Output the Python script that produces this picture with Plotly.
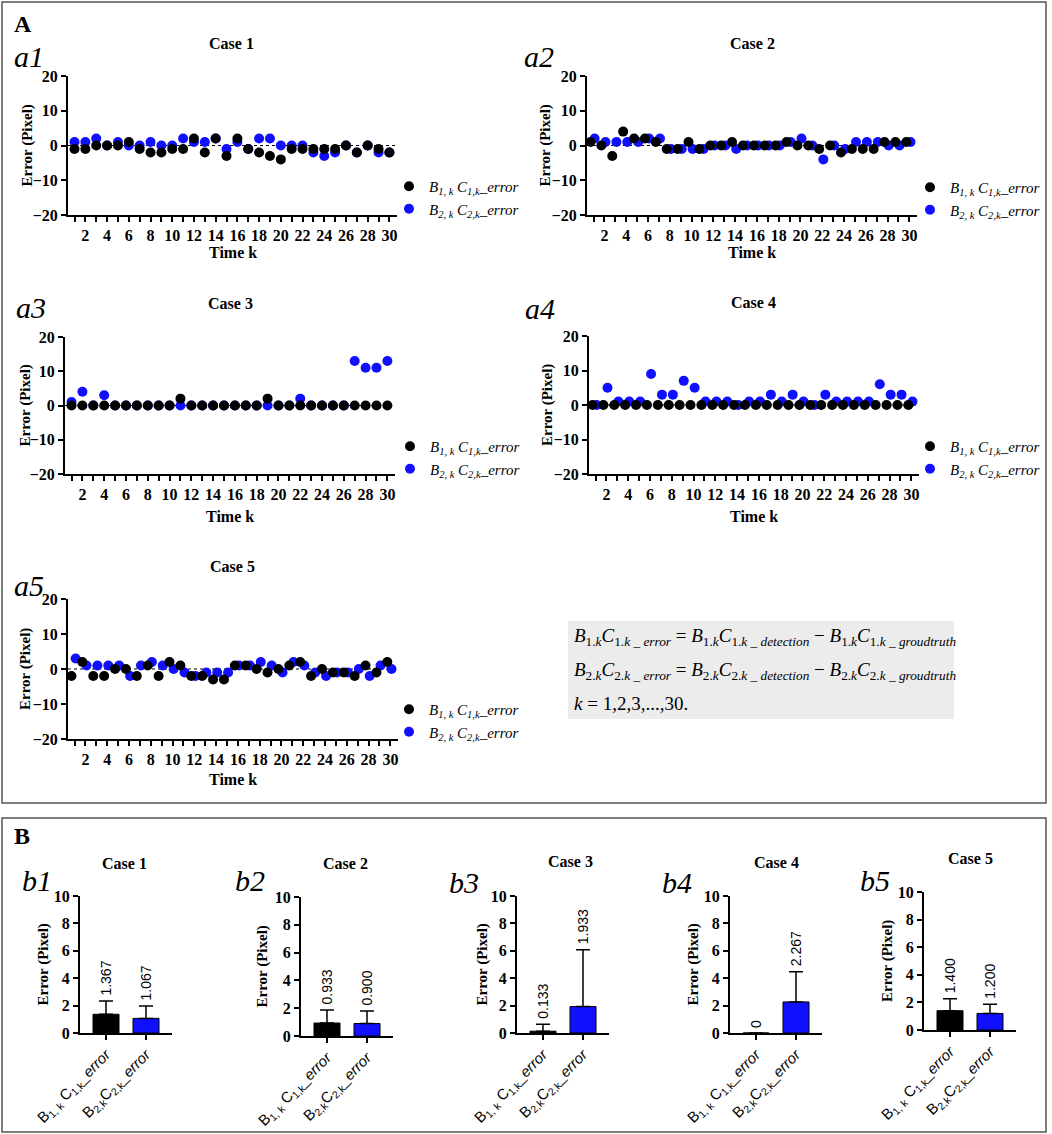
import plotly.graph_objects as go

W, H = 1052, 1134
SERIF = "Liberation Serif"
SANS = "Liberation Sans"
BLACK = "#000000"
BLUE = "#1010ff"

# ---- data -------------------------------------------------------------
k = list(range(1, 31))

case1_black = [-1, -1, 0, 0, 0, 1, -1, -2, -2, -1, -1, 2, -2, 2, -3, 2, -1, -2, -3, -4, -1, -1, -1, -1, -1, 0, -2, 0, -1, -2]
case1_blue = [1, 1, 2, 0, 1, 0, 0, 1, 0, 0, 2, 1, 1, 2, -1, 1, -1, 2, 2, 0, 0, 0, -2, -3, -2, 0, -2, 0, -2, -2]

case2_black = [1, 0, -3, 4, 2, 2, 1, -1, -1, 1, -1, 0, 0, 1, 0, 0, 0, 0, 1, 0, 0, -1, 0, -2, -1, -1, -1, 1, 1, 1]
case2_blue = [2, 1, 1, 1, 1, 2, 2, -1, -1, -1, -1, 0, 0, -1, 0, 0, 0, 0, 1, 2, 0, -4, 0, -1, 1, 1, 1, 0, 0, 1]

case3_black = [0, 0, 0, 0, 0, 0, 0, 0, 0, 0, 2, 0, 0, 0, 0, 0, 0, 0, 2, 0, 0, 0, 0, 0, 0, 0, 0, 0, 0, 0]
case3_blue = [1, 4, 0, 3, 0, 0, 0, 0, 0, 0, 0, 0, 0, 0, 0, 0, 0, 0, 0, 0, 0, 2, 0, 0, 0, 0, 13, 11, 11, 13]

case4_black = [0, 0, 0, 0, 0, 0, 0, 0, 0, 0, 0, 0, 0, 0, 0, 0, 0, 0, 0, 0, 0, 0, 0, 0, 0, 0, 0, 0, 0, 0]
case4_blue = [0, 5, 1, 1, 1, 9, 3, 3, 7, 5, 1, 1, 1, 0, 1, 1, 3, 1, 3, 1, 0, 3, 1, 1, 1, 1, 6, 3, 3, 1]

case5_black = [-2, 2, -2, -2, 0, 0, -2, 1, -2, 2, 1, -2, -2, -3, -3, 1, 1, 0, -1, 0, 1, 2, -2, 0, -1, -1, -2, 1, -1, 2]
case5_blue = [3, 1, 1, 1, 1, -2, 1, 2, 1, 0, -1, -2, -1, -1, -1, 1, 1, 2, 1, -1, 2, 1, -1, -2, -1, -1, 0, -2, 1, 0]

x_ticks = [str(v) if v % 2 == 0 else "" for v in k]

bar_cats = ["B<sub>1, k</sub> C<sub>1,k</sub>_<i>error</i>",
            "B<sub>2,</sub><sub>k</sub>C<sub>2,k</sub>_<i>error</i>"]
mean_black = [1.367, 0.933, 0.133, 0.0, 1.400]
mean_blue = [1.067, 0.900, 1.933, 2.267, 1.200]
sd_black = [0.96, 0.94, 0.51, 0.0, 0.86]
sd_blue = [0.91, 0.89, 4.14, 2.20, 0.66]

legend_black = "<i>B</i><sub><i>1, k</i></sub> <i>C</i><sub><i>1,k</i></sub><i>_error</i>"
legend_blue = "<i>B</i><sub><i>2, k</i></sub> <i>C</i><sub><i>2,k</i></sub><i>_error</i>"

# ---- layout helpers (pixel -> paper) ---------------------------------
def fx(p):
    return p / W

def fy(p):
    return 1 - p / H

fig = go.Figure()
annotations = []
shapes = []
layout = {}

def text(x, y, s, size=14, bold=True, family=SERIF, angle=0, xanchor="center", yanchor="middle"):
    annotations.append(dict(x=fx(x), y=fy(y), xref="paper", yref="paper", text=s, showarrow=False,
                            xanchor=xanchor, yanchor=yanchor, textangle=angle,
                            font=dict(family=family, size=size, color="black",
                                      weight="bold" if bold else "normal")))

axis_style = dict(showline=True, linewidth=2, linecolor="black", ticks="outside", ticklen=5,
                  tickwidth=2, tickcolor="black", showgrid=False, zeroline=False)
tick_font = dict(family=SERIF, size=16, color="black", weight="bold")

# ---- scatter panels ---------------------------------------------------
scatter_panels = [
    (case1_black, case1_blue, "Case 1", "a1", (68, 397), (76, 215), (0, 0), (231, 43), (12, 57), (27, 252), (389, 170)),
    (case2_black, case2_blue, "Case 2", "a2", (587, 917), (76, 215), (-0.28, 0.1), (752, 43), (522, 57), (545, 252), (910, 171)),
    (case3_black, case3_blue, "Case 3", "a3", (65, 395), (337, 474), (0, 0), (230, 303), (14, 307), (25, 516), (390, 430)),
    (case4_black, case4_blue, "Case 4", "a4", (589, 919), (336, 474), (-0.28, 0.1), (753, 302), (523, 308), (547, 516), (910, 430)),
    (case5_black, case5_blue, "Case 5", "a5", (68, 398), (599, 739), (-0.28, 0.1), (232, 566), (12, 585), (25, 779), (389, 693)),
]

for i, (yb, yu, title, lab, xd, yd, dodge, tpos, lpos, ttl, lg) in enumerate(scatter_panels):
    n = i + 1
    xa = "x" if n == 1 else f"x{n}"
    ya = "y" if n == 1 else f"y{n}"
    leg = "legend" if n == 1 else f"legend{n}"
    fig.add_trace(go.Scatter(x=[v + dodge[1] for v in k], y=yu, mode="markers", name=legend_blue,
                             marker=dict(color=BLUE, size=10), xaxis=xa, yaxis=ya,
                             legend=leg, legendrank=2, hoverinfo="skip"))
    fig.add_trace(go.Scatter(x=[v + dodge[0] for v in k], y=yb, mode="markers", name=legend_black,
                             marker=dict(color=BLACK, size=10), xaxis=xa, yaxis=ya,
                             legend=leg, legendrank=1, hoverinfo="skip"))
    layout["xaxis" if n == 1 else f"xaxis{n}"] = dict(
        domain=[fx(xd[0]), fx(xd[1])], anchor=ya, range=[0.4, 30.7],
        tickvals=k, ticktext=x_ticks, tickfont=tick_font, **axis_style)
    layout["yaxis" if n == 1 else f"yaxis{n}"] = dict(
        domain=[fy(yd[1]), fy(yd[0])], anchor=xa, range=[-20, 20],
        tickvals=[-20, -10, 0, 10, 20], tickfont=tick_font, **axis_style)
    layout[leg] = dict(x=fx(lg[0]), y=fy(lg[1]), xanchor="left", yanchor="top",
                       bgcolor="rgba(0,0,0,0)", font=dict(family=SERIF, size=15, color="black"),
                       tracegroupgap=0, itemwidth=30)
    shapes.append(dict(type="line", xref=f"{xa} domain", yref=ya, x0=0, x1=1, y0=0, y1=0,
                       line=dict(color="black", width=1.2, dash="dot"), layer="below"))
    text(tpos[0], tpos[1], title, size=16)
    text(lpos[0], lpos[1], f"<i>{lab}</i>", size=30, bold=False, xanchor="left")
    text(ttl[0], (yd[0] + yd[1]) / 2, "Error (Pixel)", size=15, angle=-90)
    text((xd[0] + xd[1]) / 2, ttl[1], "Time k", size=16)

# ---- bar panels -------------------------------------------------------
bar_panels = [
    ("Case 1", "b1", 80, (896, 1033), (124, 863), (20, 880), 43),
    ("Case 2", "b2", 301, (897, 1036), (345, 863), (233, 880), 262),
    ("Case 3", "b3", 517, (896, 1033), (570, 861), (447, 882), 482),
    ("Case 4", "b4", 730, (896, 1033), (776, 862), (660, 882), 693),
    ("Case 5", "b5", 924, (892, 1030), (970, 858), (858, 880), 887),
]

for i, (title, lab, x0, yd, tpos, lpos, ytx) in enumerate(bar_panels):
    n = i + 6
    xa, ya = f"x{n}", f"y{n}"
    means = [mean_black[i], mean_blue[i]]
    sds = [sd_black[i], sd_blue[i]]
    fig.add_trace(go.Bar(x=bar_cats, y=means, width=0.65, xaxis=xa, yaxis=ya, showlegend=False,
                         marker=dict(color=[BLACK, BLUE], line=dict(color="black", width=1)),
                         error_y=dict(type="data", array=sds, arrayminus=[0, 0], symmetric=False,
                                      color="black", thickness=1.5, width=7),
                         hoverinfo="skip"))
    layout[f"xaxis{n}"] = dict(domain=[fx(x0), fx(x0 + 92)], anchor=ya, range=[-0.65, 1.65],
                               type="category", tickangle=-45,
                               tickfont=dict(family=SANS, size=15, color="black"), **axis_style)
    layout[f"yaxis{n}"] = dict(domain=[fy(yd[1]), fy(yd[0])], anchor=xa, range=[0, 10],
                               tickvals=[0, 2, 4, 6, 8, 10], tickfont=tick_font, **axis_style)
    for c, m, s in zip(bar_cats, means, sds):
        lbl = "0" if m == 0 else f"{m:.3f}"
        annotations.append(dict(x=c, y=m + s, xref=xa, yref=ya, text=lbl, showarrow=False,
                                textangle=-90, xanchor="center", yanchor="bottom", yshift=3,
                                font=dict(family=SANS, size=14, color="black")))
    text(tpos[0], tpos[1], title, size=16)
    text(lpos[0], lpos[1], f"<i>{lab}</i>", size=30, bold=False, xanchor="left")
    text(ytx, (yd[0] + yd[1]) / 2, "Error (Pixel)", size=15, angle=-90)

# ---- panel letters, frames, formula box --------------------------------
text(12, 24, "A", size=24, xanchor="left")
text(12, 836, "B", size=24, xanchor="left")

shapes.append(dict(type="rect", xref="paper", yref="paper", x0=fx(2), x1=fx(1046), y0=fy(803), y1=fy(2),
                   line=dict(color="#555555", width=1.5)))
shapes.append(dict(type="rect", xref="paper", yref="paper", x0=fx(2), x1=fx(1046), y0=fy(1132), y1=fy(818),
                   line=dict(color="#555555", width=1.5)))
shapes.append(dict(type="rect", xref="paper", yref="paper", x0=fx(568), x1=fx(954), y0=fy(719), y1=fy(621),
                   fillcolor="#ececec", line=dict(width=0), layer="below"))

f1 = ("<i>B</i><sub>1.<i>k</i></sub><i>C</i><sub>1.<i>k</i> _ <i>error</i></sub> = "
      "<i>B</i><sub>1.<i>k</i></sub><i>C</i><sub>1.<i>k</i> _ <i>detection</i></sub> \u2212 "
      "<i>B</i><sub>1.<i>k</i></sub><i>C</i><sub>1.<i>k</i> _ <i>groudtruth</i></sub>")
f2 = ("<i>B</i><sub>2.<i>k</i></sub><i>C</i><sub>2.<i>k</i> _ <i>error</i></sub> = "
      "<i>B</i><sub>2.<i>k</i></sub><i>C</i><sub>2.<i>k</i> _ <i>detection</i></sub> \u2212 "
      "<i>B</i><sub>2.<i>k</i></sub><i>C</i><sub>2.<i>k</i> _ <i>groudtruth</i></sub>")
f3 = "<i>k</i> = 1,2,3,...,30."
text(572, 637, f1, size=19, bold=False, xanchor="left")
text(572, 671, f2, size=19, bold=False, xanchor="left")
text(572, 703, f3, size=19, bold=False, xanchor="left")

fig.update_layout(width=W, height=H, margin=dict(l=0, r=0, t=0, b=0, autoexpand=False),
                  paper_bgcolor="white", plot_bgcolor="white", bargap=0.35,
                  annotations=annotations, shapes=shapes, **layout)

# page body margin would shift the whole figure by 8px
fig.write_html("out.html", config={"displayModeBar": False},
               post_script="document.body.style.margin='0';")
